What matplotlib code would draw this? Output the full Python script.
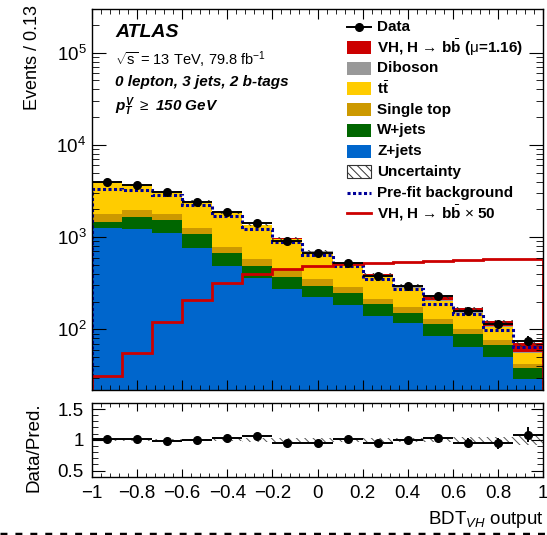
import numpy as np
import matplotlib
matplotlib.use("Agg")
import matplotlib.pyplot as plt
from matplotlib.patches import Rectangle
from matplotlib.lines import Line2D
from matplotlib.ticker import MultipleLocator, LogLocator, NullFormatter, FuncFormatter

plt.rcParams['font.family'] = ['Liberation Sans', 'DejaVu Sans']
plt.rcParams['mathtext.fontset'] = 'custom'
plt.rcParams['mathtext.rm'] = 'Liberation Sans'
plt.rcParams['mathtext.bf'] = 'Liberation Sans:bold'
plt.rcParams['mathtext.it'] = 'Liberation Sans:italic:bold'
plt.rcParams['mathtext.sf'] = 'Liberation Sans:italic'
plt.rcParams['hatch.linewidth'] = 0.7

# BDT_VH output, 15 bins from -1 to 1
edges = np.linspace(-1, 1, 16)
centers = 0.5 * (edges[1:] + edges[:-1])
half_w = 0.5 * (edges[1] - edges[0])

data = np.array([3960, 3710, 3060, 2430, 1890, 1437, 908, 679, 529, 379, 295, 228, 160, 114, 75])
zjets = np.array([1250, 1220, 1109, 769, 482, 363, 270, 221, 182, 138, 115, 84, 64, 49, 28])
wjets = np.array([209, 431, 440, 303, 191, 127, 99, 71, 66, 49, 33, 29, 24, 18, 9])
stop = np.array([341, 299, 217, 173, 108, 88, 68, 54, 40, 26, 24, 16, 11, 8, 4])
ttbar = np.array([2102, 1669, 1338, 1192, 1035, 757, 508, 345, 218, 165, 107, 74, 52, 29.6, 13.5])
diboson = np.array([18, 17, 15, 13, 12, 12, 10, 9, 8, 7, 6, 5, 4, 3, 1.5])
vh_fit = np.array([0.7, 1.3, 2.8, 4.9, 7.4, 9.2, 10.5, 11.2, 11.9, 12.2, 12.5, 12.7, 13.0, 13.4, 13.4])
vh_x50 = np.array([31, 55, 120, 210, 318, 395, 451, 482, 515, 524, 537, 546, 560, 578, 578])
prefit = np.array([3357, 3220, 2840, 2250, 1683, 1216, 885, 635, 482, 355, 276, 190, 148, 97.5, 64])
rel_unc = np.array([0.02, 0.02, 0.02, 0.02, 0.025, 0.03, 0.03, 0.03, 0.03, 0.035, 0.035, 0.04, 0.05, 0.05, 0.08])

components = [
    (zjets, '#0066cc', 'Z+jets'),
    (wjets, '#006600', 'W+jets'),
    (stop, '#cc9900', 'Single top'),
    (ttbar, '#ffcc00', r't$\bar{\mathbf{t}}$'),
    (diboson, '#999999', 'Diboson'),
    (vh_fit, '#cc0000', 'VH, H \u2192 b$\\bar{\\mathbf{b}}$ ($\\mathrm{\\mu}$=1.16)'),
]
total = sum(c[0] for c in components)
ratio = data / total
ratio_err = np.sqrt(data) / total

fig = plt.figure(figsize=(5.47, 5.35), dpi=100)
ax = fig.add_axes([0.168, 0.271, 0.825, 0.713])
axr = fig.add_axes([0.168, 0.109, 0.825, 0.138])

# stacked backgrounds + signal
base = np.ones_like(total, dtype=float)
for vals, col, lab in components:
    ax.stairs(base + vals, edges, baseline=base, fill=True, color=col, lw=0)
    base = base + vals

ax.stairs(total * (1 + rel_unc), edges, baseline=total * (1 - rel_unc), fill=True,
          facecolor='none', edgecolor='#333333', hatch='\\\\\\\\', lw=0)
ax.stairs(prefit, edges, color='#000099', lw=2.2, ls=(0, (1, 0.8)))
ax.stairs(vh_x50, edges, color='#cc0000', lw=2.0)
ax.errorbar(centers, data, xerr=half_w, yerr=np.sqrt(data), fmt='o', color='k',
            ms=5.5, lw=1.4, capsize=0)

ax.set_yscale('log')
ax.set_xlim(-1, 1)
ax.set_ylim(22, 3e5)
ax.set_ylabel('Events / 0.13', fontsize=13, loc='top')
ax.yaxis.set_label_coords(-0.113, 1.01)

# ratio panel
axr.stairs(1 + rel_unc, edges, baseline=1 - rel_unc, fill=True,
           facecolor='none', edgecolor='#555555', hatch='\\\\\\\\', lw=0)
axr.errorbar(centers, ratio, xerr=half_w, yerr=ratio_err, fmt='o', color='k',
             ms=5.5, lw=1.4, capsize=0)
axr.set_xlim(-1, 1)
axr.set_ylim(0.4, 1.6)
axr.set_ylabel('Data/Pred.', fontsize=13.5)
axr.yaxis.set_label_coords(-0.11, 0.4)
axr.set_xlabel(r'BDT$_{\mathsf{VH}}$ output', fontsize=13.5, loc='right')
axr.xaxis.set_label_coords(1.0, -0.44)


def num_fmt(v, pos):
    return ('%g' % (round(v, 6) + 0.0)).replace('-', '\u2212')


for a in (ax, axr):
    a.xaxis.set_major_locator(MultipleLocator(0.2))
    a.xaxis.set_minor_locator(MultipleLocator(0.04))
    a.tick_params(which='both', direction='in', top=True, right=True, labelsize=13.5)
    for s in a.spines.values():
        s.set_linewidth(1.0)

ax.tick_params(axis='x', which='major', length=7, labelbottom=False)
ax.tick_params(axis='x', which='minor', length=3.5)
ax.tick_params(axis='y', which='major', length=10, pad=4)
ax.tick_params(axis='y', which='minor', length=5)
ax.yaxis.set_major_locator(LogLocator(base=10, numticks=10))
ax.yaxis.set_minor_locator(LogLocator(base=10, subs=np.arange(2, 10), numticks=20))
ax.yaxis.set_minor_formatter(NullFormatter())

axr.yaxis.set_major_locator(MultipleLocator(0.5))
axr.yaxis.set_minor_locator(MultipleLocator(0.1))
axr.yaxis.set_major_formatter(FuncFormatter(num_fmt))
axr.xaxis.set_major_formatter(FuncFormatter(num_fmt))
axr.tick_params(axis='x', which='major', length=6, pad=6)
axr.tick_params(axis='x', which='minor', length=3)
axr.tick_params(axis='y', which='major', length=9, pad=6)
axr.tick_params(axis='y', which='minor', length=4.5)

# labels
ax.text(0.051, 0.936, 'ATLAS', transform=ax.transAxes, fontsize=14, fontweight='bold',
        style='italic', va='center')
ax.text(0.051, 0.865, r'$\sqrt{\mathrm{s}}$ = 13 TeV, 79.8 fb$^{\mathrm{-1}}$', transform=ax.transAxes,
        fontsize=10.5, va='center')
ax.text(0.051, 0.808, '0 lepton, 3 jets, 2 b-tags', transform=ax.transAxes, fontsize=11,
        fontweight='bold', style='italic', va='center')
ax.text(0.051, 0.742, r'$p_{T}^{V}$ $\geq$ 150 GeV', transform=ax.transAxes, fontsize=11,
        fontweight='bold', style='italic', va='center')

# legend, drawn by hand in axes fraction
leg_x0, leg_x1, leg_tx = 0.565, 0.619, 0.632
row_h = 20.75 / 381.3
y_first = 1 - (26.7 - 8.7) / 381.3
box_h = 13 / 381.3
entries = [('data', 'Data')]
for vals, col, lab in components[::-1]:
    entries.append(('box', lab, col))
entries += [('unc', 'Uncertainty'), ('prefit', 'Pre-fit background'),
            ('sig', 'VH, H \u2192 b$\\bar{\\mathbf{b}}$ $\\times$ 50')]
for i, e in enumerate(entries):
    yc = y_first - i * row_h
    kind = e[0]
    if kind == 'data':
        ax.add_line(Line2D([leg_x0, leg_x1], [yc, yc], transform=ax.transAxes, color='k', lw=1.4))
        ax.add_line(Line2D([0.5 * (leg_x0 + leg_x1)], [yc], transform=ax.transAxes, color='k',
                           marker='o', ms=5.5))
    elif kind == 'box':
        ax.add_patch(Rectangle((leg_x0, yc - box_h / 2), leg_x1 - leg_x0, box_h,
                               transform=ax.transAxes, facecolor=e[2], edgecolor='none'))
    elif kind == 'unc':
        ax.add_patch(Rectangle((leg_x0, yc - box_h / 2), leg_x1 - leg_x0, box_h,
                               transform=ax.transAxes, facecolor='none', edgecolor='#333333',
                               hatch='\\\\\\\\', lw=0.8))
    elif kind == 'prefit':
        ax.add_line(Line2D([leg_x0, leg_x1], [yc, yc], transform=ax.transAxes, color='#000099',
                           lw=2.2, ls=(0, (1, 0.8))))
    elif kind == 'sig':
        ax.add_line(Line2D([leg_x0, leg_x1], [yc, yc], transform=ax.transAxes, color='#cc0000', lw=2.0))
    ax.text(leg_tx, yc, e[1], transform=ax.transAxes, fontsize=11, fontweight='bold', va='center')

# dashed separator at the bottom edge
fig.add_artist(Line2D([0, 1], [0.002, 0.002], transform=fig.transFigure, color='k',
                      lw=2.5, ls=(0, (2, 2.3))))

fig.savefig('out.png', dpi=100)
